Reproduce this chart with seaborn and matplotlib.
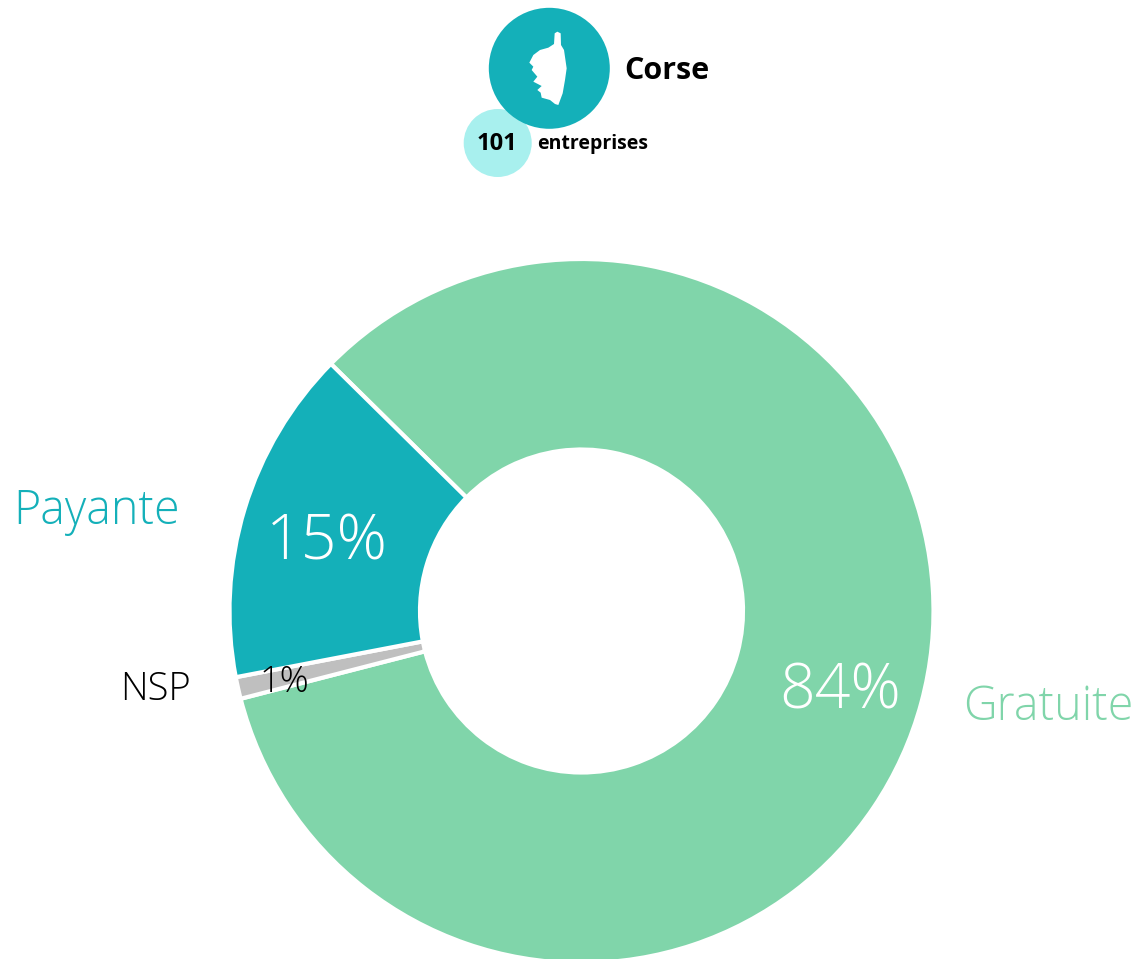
import matplotlib
matplotlib.use("Agg")
import matplotlib.pyplot as plt
from matplotlib.patches import Circle, Polygon
import seaborn as sns

# Values
categories = ["Gratuite", "NSP", "Payante"]
shares = [83.6, 1.0, 15.4]
share_labels = ["84%", "1%", "15%"]
region = "Corse"
company_count = "101"
company_word = "entreprises"

# Outline of the island for the icon, in zoomed screenshot pixels
island_x = [322, 332, 333, 342, 350, 345, 338, 325, 315, 300, 275, 272, 262, 275,
            250, 262, 245, 250, 238, 250, 270, 295, 312, 314]
island_y = [95, 100, 135, 150, 205, 240, 280, 315, 312, 300, 293, 278, 270, 258,
            245, 230, 210, 200, 188, 165, 150, 143, 132, 100]

sns.set_theme(style="white")
plt.rcParams['font.family'] = ['Open Sans', 'DejaVu Sans']

teal = "#14b0b9"
green = "#80d5aa"
grey = "#bfbfbf"
pale = "#a8f0ee"

W, H = 1140, 959
fig = plt.figure(figsize=(W / 100, H / 100), dpi=100)
ax = fig.add_axes([0, 0, 1, 1])


def up(py):
    # screenshot y to axes y
    return H - py


# Donut
ax.pie(shares, colors=[green, grey, teal], startangle=135.4, counterclock=False,
       center=(581.5, up(611)), radius=352,
       wedgeprops=dict(width=190.5, edgecolor="white", linewidth=3))
ax.set_xlim(0, W)
ax.set_ylim(0, H)
ax.set_aspect("equal")
ax.axis("off")

# Percentages inside the ring
ax.text(840, up(692), share_labels[0], color="white", fontsize=45, ha="center", va="center", fontweight="light")
ax.text(284, up(683), share_labels[1], color="black", fontsize=26, ha="center", va="center", fontweight="light")
ax.text(327, up(543), share_labels[2], color="white", fontsize=45, ha="center", va="center", fontweight="light")

# Category names
ax.text(1048, up(708), categories[0], color=green, fontsize=33.5, ha="center", va="center", fontweight="light")
ax.text(156, up(690), categories[1], color="black", fontsize=27.5, ha="center", va="center", fontweight="light")
ax.text(97, up(512), categories[2], color=teal, fontsize=33.5, ha="center", va="center", fontweight="light")

# Header badge
ax.add_patch(Circle((497.7, up(143)), 34, color=pale, lw=0))
ax.add_patch(Circle((549.3, up(68.3)), 60.5, color=teal, lw=0))
outline = [(450 + zx / 3, up(zy / 3)) for zx, zy in zip(island_x, island_y)]
ax.add_patch(Polygon(outline, closed=True, color="white", lw=0))
ax.text(624, up(71), region, color="black", fontsize=22, fontweight="bold", ha="left", va="center")
ax.text(497, up(144), company_count, color="black", fontsize=17, fontweight="bold", ha="center", va="center")
ax.text(537, up(144), company_word, color="black", fontsize=14, fontweight="bold", ha="left", va="center")

fig.savefig("out.png", dpi=100)
